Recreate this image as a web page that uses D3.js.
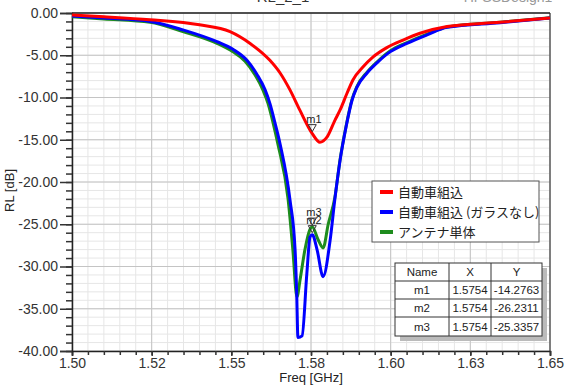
<!DOCTYPE html>
<html>
<head>
<meta charset="utf-8">
<script src="https://cdn.jsdelivr.net/npm/d3@7"></script>
<style>
  body { margin: 0; background: #fff; }
  text { font-family: "Liberation Sans", Arial, sans-serif; }
  .jp { font-family: "Noto Sans CJK JP", sans-serif; }
</style>
</head>
<body>
<div id="plot"></div>
<script>
// frequency [GHz] and RL [dB]
var redFreq = [1.500, 1.510, 1.5245, 1.540, 1.5496, 1.5559, 1.5621, 1.5653, 1.5684, 1.5715, 1.5754, 1.5778, 1.580, 1.5825, 1.5841, 1.5863, 1.5882, 1.5913, 1.5945, 1.5988, 1.6039, 1.6092, 1.6177, 1.6343, 1.650];
var redRL   = [-0.25, -0.45, -0.8, -1.4, -2.2, -3.6, -5.6, -7.1, -9.1, -11.5, -14.28, -15.3, -14.7, -12.7, -11.5, -9.5, -7.9, -6.4, -5.2, -4.1, -3.2, -2.4, -1.6, -1.1, -0.6];

var blueFreq = [1.500, 1.510, 1.5245, 1.5348, 1.5455, 1.5505, 1.5549, 1.5581, 1.5606, 1.5621, 1.5637, 1.5653, 1.5684, 1.5700, 1.5705, 1.5709, 1.5722, 1.5737, 1.5747, 1.5754, 1.5769, 1.5788, 1.5810, 1.5825, 1.5841, 1.5860, 1.5879, 1.5894, 1.5926, 1.5957, 1.5998, 1.6051, 1.6114, 1.6177, 1.6343, 1.650];
var blueRL   = [-0.35, -0.6, -1.0, -2.0, -3.4, -4.3, -5.6, -7.3, -9.1, -10.7, -13.0, -15.5, -22.1, -28.0, -33.0, -38.4, -38.2, -30.8, -26.5, -26.23, -28.0, -31.2, -26.9, -22.0, -17.5, -13.5, -10.3, -8.8, -7.1, -5.9, -4.6, -3.6, -2.6, -1.7, -1.15, -0.6];

var greenFreq = [1.500, 1.510, 1.5245, 1.5348, 1.5455, 1.5505, 1.5543, 1.5574, 1.5599, 1.5615, 1.5631, 1.5646, 1.5678, 1.5693, 1.5706, 1.5716, 1.5731, 1.5747, 1.5754, 1.5772, 1.5788, 1.5804, 1.5825, 1.5841, 1.5860, 1.5879, 1.5894, 1.5926, 1.5957, 1.5998, 1.6051, 1.6114, 1.6177, 1.6343, 1.650];
var greenRL   = [-0.45, -0.7, -1.1, -2.2, -3.6, -4.6, -5.7, -7.3, -9.1, -10.7, -13.0, -15.5, -22.0, -28.0, -33.6, -31.5, -28.0, -25.6, -25.34, -26.8, -27.8, -25.0, -21.8, -17.4, -13.4, -10.2, -8.7, -7.0, -5.8, -4.5, -3.5, -2.5, -1.65, -1.1, -0.55];

var seriesNames = ["自動車組込", "自動車組込 (ガラスなし)", "アンテナ単体"];
var seriesColors = ["#ff0000", "#0000ff", "#1e8c1e"];

var markerNames = ["m1", "m2", "m3"];
var markerX = [1.5754, 1.5754, 1.5754];
var markerY = [-14.2763, -26.2311, -25.3357];

var xTicks = [1.500, 1.525, 1.550, 1.575, 1.600, 1.625, 1.650];
var xTickLabels = ["1.50", "1.52", "1.55", "1.58", "1.60", "1.63", "1.65"];
var yTicks = [0, -5, -10, -15, -20, -25, -30, -35, -40];
var yTickLabels = ["0.00", "-5.00", "-10.00", "-15.00", "-20.00", "-25.00", "-30.00", "-35.00", "-40.00"];

var margin = {top: 13, right: 22, bottom: 34, left: 72},
    width = 572 - margin.left - margin.right,
    height = 385 - margin.top - margin.bottom;

var root = d3.select("#plot")
  .append("svg")
    .attr("width", 572)
    .attr("height", 385);

// titles, cut off at the top edge as in the original window
root.append("text").attr("x", 283).attr("y", 2).attr("text-anchor", "middle")
  .style("font-size", 15).attr("fill", "#333").text("RL_2_1");
root.append("text").attr("x", 508).attr("y", 2).attr("text-anchor", "middle")
  .style("font-size", 14).attr("fill", "#999").text("HFSSDesign1");

var svg = root.append("g")
  .attr("transform", "translate(" + margin.left + "," + margin.top + ")");

var x = d3.scaleLinear().domain([1.5, 1.65]).range([0, width]);
var y = d3.scaleLinear().domain([-40, 0]).range([height, 0]);

// grid
var minorX = d3.range(1.5, 1.6501, 0.005);
var minorY = d3.range(-40, 0.01, 1);
svg.append("g").selectAll("line").data(minorX).enter().append("line")
  .attr("x1", d => x(d)).attr("x2", d => x(d)).attr("y1", 0).attr("y2", height)
  .attr("stroke", "#e6e6e6");
svg.append("g").selectAll("line").data(minorY).enter().append("line")
  .attr("y1", d => y(d)).attr("y2", d => y(d)).attr("x1", 0).attr("x2", width)
  .attr("stroke", "#e6e6e6");
svg.append("g").selectAll("line").data(xTicks).enter().append("line")
  .attr("x1", d => x(d)).attr("x2", d => x(d)).attr("y1", 0).attr("y2", height)
  .attr("stroke", "#c4c4c4");
svg.append("g").selectAll("line").data(yTicks).enter().append("line")
  .attr("y1", d => y(d)).attr("y2", d => y(d)).attr("x1", 0).attr("x2", width)
  .attr("stroke", "#c4c4c4");

// axes
svg.append("g")
  .attr("transform", "translate(0," + height + ")")
  .call(d3.axisBottom(x).tickValues(xTicks).tickSize(5).tickPadding(2)
    .tickFormat((d, i) => xTickLabels[i]));
svg.append("g")
  .attr("transform", "translate(0," + height + ")")
  .call(d3.axisBottom(x).tickValues(minorX).tickSize(4).tickFormat(""))
  .select(".domain").remove();
svg.append("g")
  .call(d3.axisLeft(y).tickValues(yTicks).tickSize(12).tickPadding(2)
    .tickFormat((d, i) => yTickLabels[i]));
svg.append("g")
  .call(d3.axisLeft(y).tickValues(minorY).tickSize(6).tickFormat(""))
  .select(".domain").remove();

svg.selectAll(".tick line").attr("stroke", "#333").attr("stroke-width", 1.5);
svg.selectAll(".domain").attr("stroke", "#222").attr("stroke-width", 1.5);
svg.selectAll(".tick text").attr("fill", "#333").style("font-size", 14)
  .style("font-family", "Liberation Sans, Arial, sans-serif");

// frame top/right
svg.append("line").attr("x1", 0).attr("x2", width).attr("y1", 0).attr("y2", 0)
  .attr("stroke", "#222").attr("stroke-width", 1.5);
svg.append("line").attr("x1", width).attr("x2", width).attr("y1", 0).attr("y2", height)
  .attr("stroke", "#222").attr("stroke-width", 1);

// axis labels
svg.append("text").attr("x", width / 2).attr("y", height + 31).attr("text-anchor", "middle")
  .style("font-size", 13).attr("fill", "#222").text("Freq [GHz]");
svg.append("text").attr("transform", "rotate(-90)")
  .attr("x", -(y(-21))).attr("y", -58).attr("text-anchor", "middle")
  .style("font-size", 13).attr("fill", "#222").text("RL [dB]");

// curves: green, then blue, then red on top
var line = d3.line().curve(d3.curveMonotoneX).x(d => x(d[0])).y(d => y(d[1]));
var curves = [
  {f: greenFreq, v: greenRL, c: seriesColors[2]},
  {f: blueFreq, v: blueRL, c: seriesColors[1]},
  {f: redFreq, v: redRL, c: seriesColors[0]}
];
curves.forEach(function(s) {
  svg.append("path")
    .datum(d3.zip(s.f, s.v))
    .attr("fill", "none")
    .attr("stroke", s.c)
    .attr("stroke-width", 3)
    .attr("stroke-linejoin", "round")
    .attr("d", line);
});

// markers
markerNames.forEach(function(m, i) {
  var px = x(markerX[i]), py = y(markerY[i]);
  svg.append("path")
    .attr("d", "M" + (px - 4) + "," + (py - 9) + "L" + (px + 4) + "," + (py - 9) + "L" + px + "," + (py - 2) + "Z")
    .attr("fill", "none").attr("stroke", "#333").attr("stroke-width", 1);
  svg.append("text").attr("x", px - 6).attr("y", py - 11)
    .style("font-size", 11).attr("fill", "#222").text(m);
});

// legend
var lg = root.append("g").attr("transform", "translate(372,181)");
lg.append("rect").attr("width", 167).attr("height", 61)
  .attr("fill", "#fff").attr("stroke", "#555");
seriesNames.forEach(function(n, i) {
  var ly = 11 + i * 20;
  lg.append("line").attr("x1", 8).attr("x2", 21).attr("y1", ly).attr("y2", ly)
    .attr("stroke", seriesColors[i]).attr("stroke-width", 4);
  lg.append("text").attr("class", "jp").attr("x", 26).attr("y", ly + 5)
    .style("font-size", 13).attr("fill", "#222").text(n);
});

// marker table
var tb = root.append("g").attr("transform", "translate(395,263)");
tb.append("rect").attr("x", 5).attr("y", 5).attr("width", 147).attr("height", 73).attr("fill", "#bbb");
tb.append("rect").attr("width", 147).attr("height", 73).attr("fill", "#fff").attr("stroke", "#333");
var colX = [0, 54, 96, 147];
var rowY = [0, 18, 36, 54, 73];
[1, 2].forEach(function(c) {
  tb.append("line").attr("x1", colX[c]).attr("x2", colX[c]).attr("y1", 0).attr("y2", 73).attr("stroke", "#333");
});
[1, 2, 3].forEach(function(r) {
  tb.append("line").attr("x1", 0).attr("x2", 147).attr("y1", rowY[r]).attr("y2", rowY[r]).attr("stroke", "#333");
});
var header = ["Name", "X", "Y"];
var rows = [header].concat(markerNames.map((m, i) => [m, markerX[i].toFixed(4), markerY[i].toFixed(4)]));
rows.forEach(function(r, ri) {
  r.forEach(function(cell, ci) {
    tb.append("text")
      .attr("x", (colX[ci] + colX[ci + 1]) / 2)
      .attr("y", (rowY[ri] + rowY[ri + 1]) / 2 + 4)
      .attr("text-anchor", "middle")
      .style("font-size", 11.5).attr("fill", "#222").text(cell);
  });
});
</script>
</body>
</html>
